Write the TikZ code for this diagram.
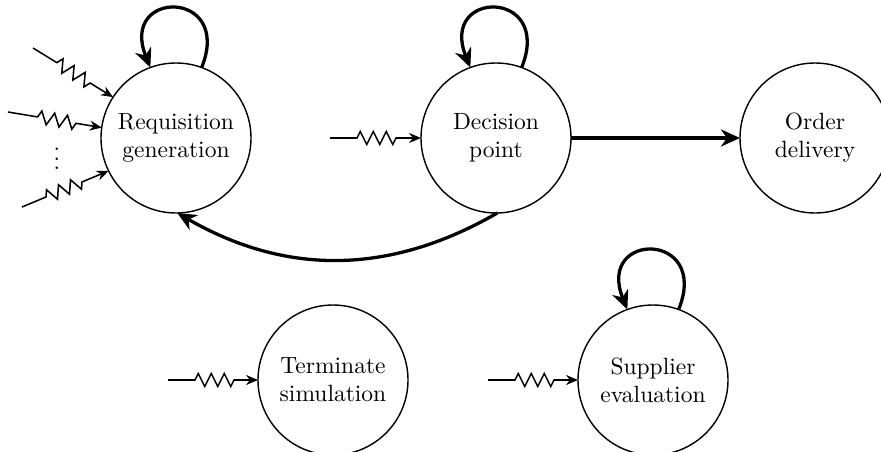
\documentclass[tikz,border=0pt]{standalone}
\usetikzlibrary{arrows.meta,decorations.pathmorphing}
\begin{document}
\begin{tikzpicture}[x=0.4255pt,y=-0.4255pt,
  state/.style={circle,draw,line width=0.6pt,minimum size=150*0.4255pt,inner sep=0pt,outer sep=0pt,align=center},
  flow/.style={line width=1.4pt,-{Stealth[length=19*0.4255pt,width=17*0.4255pt,inset=6*0.4255pt]}},
  selfloop/.style={flow},
  inarrow/.style={line width=0.65pt,-{Stealth[length=12*0.4255pt,width=10*0.4255pt,inset=4*0.4255pt]},
    decorate,decoration={zigzag,segment length=13*0.4255pt,amplitude=6.5*0.4255pt,pre length=#1*0.4255pt,post length=23*0.4255pt}},
  inarrow/.default=27]
\useasboundingbox (0,0) rectangle (881,452);
\node[state] (req) at (176,138) {Requisition\\generation};
\node[state] (dec) at (496,138) {Decision\\point};
\node[state] (ord) at (815,138) {Order\\delivery};
\node[state] (term) at (333,380) {Terminate\\simulation};
\node[state] (sup) at (653,380) {Supplier\\evaluation};
% self loops
\draw[selfloop] (req.70) .. controls +(-68:85) and +(-112:85) .. (req.110);
\draw[selfloop] (dec.70) .. controls +(-68:85) and +(-112:85) .. (dec.110);
\draw[selfloop] (sup.70) .. controls +(-68:85) and +(-112:85) .. (sup.110);
% main flows
\draw[flow] (dec.east) -- (ord.west);
\draw[flow] (dec.-89) to[bend left=30] (req.-89);
% inputs
\coordinate (r1) at (33,48);
\coordinate (r2) at (8,112);
\coordinate (r3) at (22,207);
\coordinate (d0) at (330,138);
\coordinate (t0) at (168,380);
\coordinate (s0) at (488,380);
\draw[inarrow=28] (r1) -- (req.147);
\draw[inarrow=30] (r2) -- (req.172);
\draw[inarrow=26] (r3) -- (req.206);
\draw[inarrow] (d0) -- (dec.west);
\draw[inarrow] (t0) -- (term.west);
\draw[inarrow] (s0) -- (sup.west);
\node[inner sep=0pt] (dots) at (57,152) {$\vdots$};
\end{tikzpicture}
\end{document}
